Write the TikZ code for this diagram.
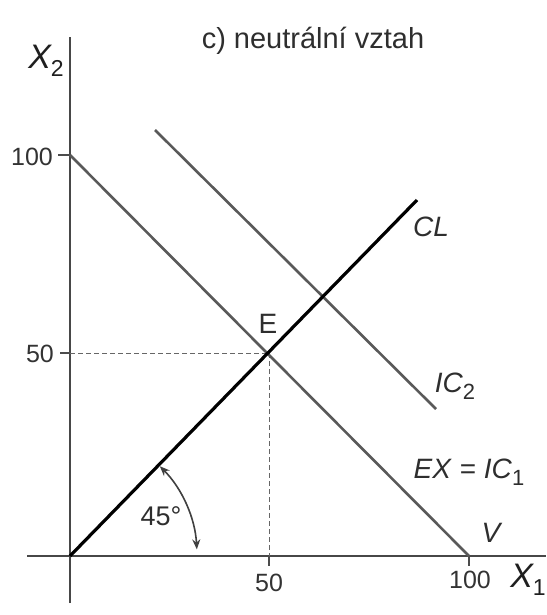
\documentclass[tikz,border=0pt]{standalone}
\usepackage{fontspec}
\setmainfont{Liberation Sans}
\usetikzlibrary{arrows.meta,calc}
\tikzset{
  axisline/.style={draw=black!72, line width=0.95pt},
  icline/.style={draw=black!65, line width=1.3pt},
  clline/.style={draw=black, line width=1.6pt},
  guideline/.style={draw=black!60, line width=0.45pt, dash pattern=on 2.5pt off 1.5pt},
  tickline/.style={draw=black!70, line width=0.7pt},
  lbl/.style={inner sep=0pt, font=\fontsize{12.5}{14}\selectfont, text=black!80},
  midlbl/.style={inner sep=0pt, font=\fontsize{14}{16}\selectfont, text=black!82},
  biglbl/.style={inner sep=0pt, font=\fontsize{17}{19}\selectfont\itshape, text=black!88},
}
\begin{document}
\begin{tikzpicture}[x=0.5pt, y=-0.5pt]
\useasboundingbox (0,0) rectangle (546,615);
% named points
\coordinate (O) at (70,556);
\coordinate (ytop) at (70,37);
\coordinate (ybot) at (70,603);
\coordinate (xleft) at (27,556);
\coordinate (xright) at (546,556);
\coordinate (Y100) at (70,155);
\coordinate (Y50) at (70,353);
\coordinate (X50) at (269,556);
\coordinate (X100) at (469,556);
\coordinate (E) at (269,353);
\coordinate (CLend) at (417,200);
\coordinate (IC2a) at (155,130);
\coordinate (IC2b) at (436,409);
% axes
\draw[axisline] (xleft) -- (xright);
\draw[axisline] (ybot) -- (ytop);
% ticks
\draw[tickline] (Y100) -- ++(-12,0);
\draw[tickline] (Y50) -- ++(-10,0);
\draw[tickline] (X50) -- ++(0,10);
\draw[tickline] (X100) -- ++(0,10);
% dashed guides
\draw[guideline] (Y50) -- (E);
\draw[guideline] (E) -- (X50);
% lines
\draw[icline] (Y100) -- (X100);
\draw[icline] (IC2a) -- (IC2b);
\draw[clline] (O) -- (CLend);
% angle arrow
\draw[draw=black!75, line width=0.8pt, {Stealth[length=5pt,width=4pt]}-{Stealth[length=5pt,width=4pt]}]
  ($(O)+(89.8,-89.8)$) arc[start angle=-45, end angle=-3, radius=127];
% labels
\node[midlbl, font=\fontsize{14.5}{16}\selectfont] (title) at (313,41) {c) neutrální vztah};
\node[biglbl] (x2lbl) at (46,61) {X\raisebox{-0.45ex}{\fontsize{11.5}{13}\selectfont\upshape 2}};
\node[biglbl] (x1lbl) at (528,580) {X\raisebox{-0.45ex}{\fontsize{11.5}{13}\selectfont\upshape 1}};
\node[lbl] (l100y) at (32,157) {100};
\node[lbl] (l50y) at (40,354) {50};
\node[lbl] (l50x) at (269,583) {50};
\node[lbl] (l100x) at (470,580) {100};
\node[midlbl] (Elbl) at (268,324) {E};
\node[midlbl, font=\fontsize{14}{16}\selectfont\itshape] (CLlbl) at (431,227) {CL};
\node[midlbl] (IC2lbl) at (455,386) {\textit{IC}\raisebox{-0.5ex}{\fontsize{11}{12}\selectfont 2}};
\node[midlbl] (EXlbl) at (469,472) {\textit{EX} = \textit{IC}\raisebox{-0.5ex}{\fontsize{11}{12}\selectfont 1}};
\node[midlbl, font=\fontsize{14}{16}\selectfont\itshape] (Vlbl) at (491,533) {V};
\node[midlbl, font=\fontsize{13.5}{15}\selectfont] (anglbl) at (161,516) {45°};
\end{tikzpicture}
\end{document}
